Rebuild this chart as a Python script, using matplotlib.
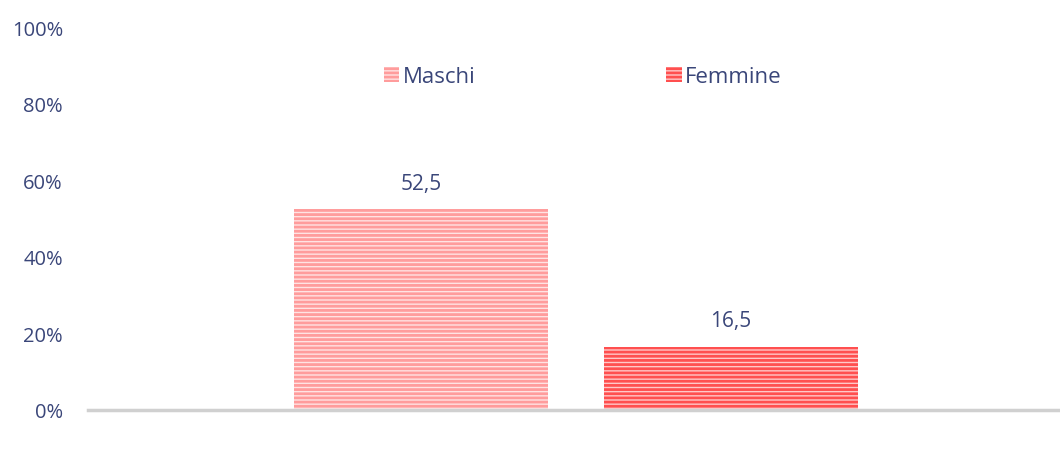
import matplotlib.pyplot as plt
import matplotlib as mpl

series = ["Maschi", "Femmine"]
values = [52.5, 16.5]
labels = ["52,5", "16,5"]
face_colors = ["#FFE3E3", "#FFC8C8"]
hatch_colors = ["#FF9C9C", "#FF4F4F"]
yticks = [0, 20, 40, 60, 80, 100]

text_color = "#3A4679"
plt.rcParams['font.family'] = ['Open Sans', 'DejaVu Sans']
mpl.rcParams['hatch.linewidth'] = 2.0

fig = plt.figure(figsize=(10.6, 4.64), dpi=100)
ax = fig.add_axes([88 / 1060, 53 / 464, 972 / 1060, 383 / 464])

# x axis in 0..972 units (same scale as the plot width)
xpos = [333, 642.5]
width = 254
for x, v, lab, fc, hc, name in zip(xpos, values, labels, face_colors, hatch_colors, series):
    ax.bar(x, v, width=width, color=fc, edgecolor=hc, hatch='----', linewidth=0, label=name)
    ax.text(x, v + 4.0, lab, ha='center', va='bottom', fontsize=15, color=text_color)

ax.set_xlim(0, 972)
ax.set_ylim(0, 100)
ax.set_yticks(yticks)
ax.set_yticklabels([f"{t}%" for t in yticks], fontsize=14.5, color=text_color)
ax.tick_params(axis='y', length=0, pad=18)
ax.set_xticks([])
for s in ['top', 'right', 'left']:
    ax.spines[s].set_visible(False)
ax.spines['bottom'].set_color('#D0D0D0')
ax.spines['bottom'].set_linewidth(2.5)

leg = ax.legend(loc='upper center', bbox_to_anchor=(0.509, 0.95), ncol=2, frameon=False,
                fontsize=16, handlelength=0.7, handleheight=0.7, handletextpad=0.15,
                columnspacing=8.6)
for t in leg.get_texts():
    t.set_color(text_color)

fig.savefig("out.png", dpi=100)
